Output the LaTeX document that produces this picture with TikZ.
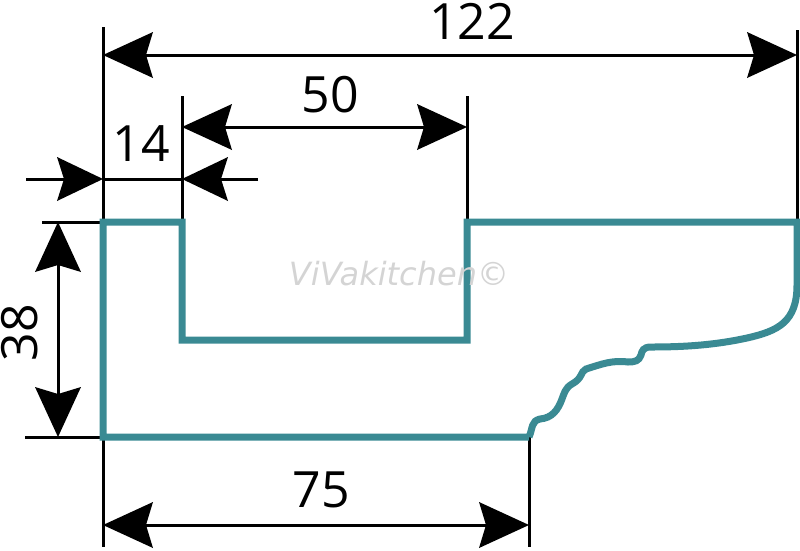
\documentclass[tikz,border=0pt]{standalone}
\usepackage{fontspec}
\setmainfont{Open Sans}
\newfontfamily\markfont{DejaVu Sans}
\usepackage{xcolor}
\definecolor{mteal}{RGB}{58,138,147}
\usepackage{tikz}
\usetikzlibrary{arrows.meta}

\begin{document}
\begin{tikzpicture}[x=1pt, y=-1pt,
    profile/.style={draw=mteal, line width=7pt, line join=miter},
    extline/.style={draw=black, line width=3pt},
    dimension/.style={extline, {Stealth[length=50pt, width=46pt, inset=7pt, line width=0pt]}-{Stealth[length=50pt, width=46pt, inset=7pt, line width=0pt]}},
    dimtip/.style={extline, -{Stealth[length=46pt, width=44pt, inset=7pt, line width=0pt]}},
    dimlabel/.style={font=\fontsize{50}{50}\selectfont, inner sep=0pt},
]
\useasboundingbox (0,0) rectangle (800,550);

% corners of the section
\coordinate (top_left) at (103,222);
\coordinate (slot_tl) at (182,222);
\coordinate (slot_bl) at (182,340);
\coordinate (slot_br) at (467,340);
\coordinate (slot_tr) at (467,222);
\coordinate (top_right) at (797,222);
\coordinate (bottom_left) at (103,437);
\coordinate (bottom_right) at (529,437);

% free ends of the extension lines
\coordinate (ext_a) at (103,27);
\coordinate (ext_b) at (182,96);
\coordinate (ext_c) at (467,96);
\coordinate (ext_d) at (797,30);
\coordinate (ext_e) at (42,222);
\coordinate (ext_f) at (25,437);
\coordinate (ext_g) at (103,547);
\coordinate (ext_h) at (529,547);

\draw[extline] (ext_a) -- (top_left);
\draw[extline] (ext_b) -- (slot_tl);
\draw[extline] (ext_c) -- (slot_tr);
\draw[extline] (ext_d) -- (top_right);
\draw[extline] (ext_e) -- (top_left);
\draw[extline] (ext_f) -- (bottom_left);
\draw[extline] (bottom_left) -- (ext_g);
\draw[extline] (bottom_right) -- (ext_h);

\draw[profile] (bottom_right) -- (bottom_left) -- (top_left) -- (slot_tl) -- (slot_bl) -- (slot_br) -- (slot_tr) -- (top_right) -- (797,285)
    .. controls (797,322) and (778,331) .. (747,338)
    .. controls (715,345) and (685,347) .. (651,347)
    .. controls (643,347) and (642,351) .. (641,355)
    .. controls (639,361) and (635,362) .. (628,362)
    .. controls (612,360) and (602,364) .. (586,369)
    .. controls (580,372) and (583,378) .. (572,384)
    .. controls (565,388) and (564,394) .. (562,399)
    .. controls (558,410) and (552,418) .. (540,419)
    .. controls (531,421) and (533,428) .. (529,437);

% dimensions
\coordinate (dim_a1) at (103,55);
\coordinate (dim_a2) at (797,55);
\coordinate (dim_b1) at (182,127);
\coordinate (dim_b2) at (467,127);
\coordinate (dim_c1) at (26,179);
\coordinate (dim_c2) at (103,179);
\coordinate (dim_c3) at (182,179);
\coordinate (dim_c4) at (258,179);
\coordinate (dim_d1) at (58,222);
\coordinate (dim_d2) at (58,437);
\coordinate (dim_e1) at (103,525);
\coordinate (dim_e2) at (529,525);

\draw[dimension] (dim_a1) -- (dim_a2);
\draw[dimension] (dim_b1) -- (dim_b2);
\draw[dimension] (dim_d1) -- (dim_d2);
\draw[dimension] (dim_e1) -- (dim_e2);
\draw[dimtip] (dim_c1) -- (dim_c2);
\draw[extline] (dim_c2) -- (dim_c3);
\draw[dimtip] (dim_c4) -- (dim_c3);

\node[dimlabel] (label_122) at (472,21) {122};
\node[dimlabel] (label_50) at (330,95) {50};
\node[dimlabel] (label_14) at (141,144) {14};
\node[dimlabel, rotate=90] (label_38) at (20,333) {38};
\node[dimlabel] (label_75) at (321,490) {75};
\node[font=\markfont\itshape\fontsize{32}{32}\selectfont, text=black!17, inner sep=0pt] (watermark) at (399,274) {ViVakitchen©};

\end{tikzpicture}
\end{document}
